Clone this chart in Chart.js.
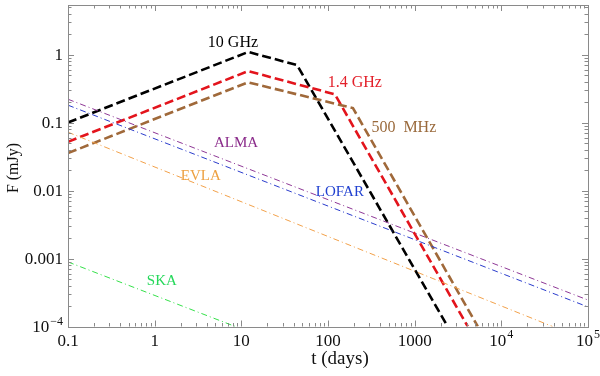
<!DOCTYPE html>
<html>
<head>
<meta charset="utf-8">
<script src="https://cdn.jsdelivr.net/npm/chart.js@4/dist/chart.umd.min.js"></script>
<style>
  html, body { margin: 0; padding: 0; background: #fff; }
  #wrap { position: relative; width: 600px; height: 376px; }
</style>
</head>
<body>
<div id="wrap"><canvas id="c" width="600" height="376"></canvas></div>
<script>
// light curves, t in days, F in mJy
const tenGHzT = [0.1, 12, 44, 2400];
const tenGHzF = [0.1, 1.09, 0.70, 1e-4];
const oneFourGHzT = [0.1, 12, 120, 4100];
const oneFourGHzF = [0.052, 0.57, 0.26, 1e-4];
const fiveHundredMHzT = [0.1, 12, 194, 5350];
const fiveHundredMHzF = [0.0355, 0.39, 0.163, 1e-4];

// instrument sensitivity lines
const almaT = [0.1, 1e5];
const almaF = [0.22, 2.45e-4];
const lofarT = [0.1, 1e5];
const lofarF = [0.18, 1.94e-4];
const evlaT = [0.1, 39000];
const evlaF = [0.072, 1e-4];
const skaT = [0.1, 8.5];
const skaF = [8.9e-4, 1e-4];

// axes
const xTickValues = [0.1, 1, 10, 100, 1000, 1e4, 1e5];
const xTickLabels = ["0.1", "1", "10", "100", "1000", "10^4", "10^5"];
const yTickValues = [1e-4, 0.001, 0.01, 0.1, 1];
const yTickLabels = ["10^-4", "0.001", "0.01", "0.1", "1"];

// curve names and where they sit (data units)
const seriesNames = ["10 GHz", "1.4 GHz", "500  MHz", "ALMA", "EVLA", "LOFAR", "SKA"];
const nameT = [8.0, 204, 750, 8.7, 3.4, 137, 1.21];
const nameF = [1.48, 0.38, 0.083, 0.05, 0.0163, 0.0095, 4.67e-4];

const pts = (t, f) => t.map((v, i) => ({ x: v, y: f[i] }));

const SERIF = "'Liberation Serif', 'DejaVu Serif', serif";
const colors = {
  tenGHz: "#000000",
  oneFour: "#e3141c",
  fiveHundred: "#a0693a",
  alma: "#8e3896",
  evla: "#f2a14a",
  lofar: "#2a3ccc",
  ska: "#35e04a",
};
const labelColors = ["#000000", "#e3202a", "#9a6a3c", "#8a2a8a", "#eda040", "#2040d0", "#25d85a"];

const thick = (label, data, color) => ({
  label, data, borderColor: color, borderWidth: 2.6, borderDash: [9, 4],
  pointRadius: 0, fill: false, tension: 0,
});
const thin = (label, data, color) => ({
  label, data, borderColor: color, borderWidth: 1, borderDash: [6, 3, 1, 3],
  pointRadius: 0, fill: false, tension: 0,
});

function drawPow(ctx, txt, x, y, align, size) {
  // "10^4" style labels with a raised exponent
  const parts = txt.split("^");
  ctx.font = size + "px " + SERIF;
  const baseW = ctx.measureText(parts[0]).width;
  let supW = 0;
  let sup = "";
  if (parts.length > 1) {
    sup = parts[1].replace("-", "\u2212");
    ctx.font = Math.round(size * 0.68) + "px " + SERIF;
    supW = ctx.measureText(sup).width + 1;
  }
  const w = baseW + supW;
  let left = x;
  if (align === "center") left = x - w / 2;
  if (align === "right") left = x - w;
  ctx.textAlign = "left";
  ctx.textBaseline = "alphabetic";
  ctx.font = size + "px " + SERIF;
  ctx.fillText(parts[0], left, y);
  if (sup) {
    ctx.font = Math.round(size * 0.68) + "px " + SERIF;
    ctx.fillText(sup, left + baseW + 1, y - size * 0.42);
  }
}

function minorTicks(min, max) {
  const out = [];
  for (let d = Math.floor(Math.log10(min)); d <= Math.ceil(Math.log10(max)); d++) {
    for (let k = 1; k <= 9; k++) {
      const v = k * Math.pow(10, d);
      if (v >= min * 0.999 && v <= max * 1.001) out.push({ v, major: k === 1 });
    }
  }
  return out;
}

const framePlugin = {
  id: "frame",
  afterDraw(chart) {
    const { ctx, chartArea: a, scales } = chart;
    const xs = scales.x, ys = scales.y;
    ctx.save();

    // frame + inward ticks on all sides
    ctx.strokeStyle = "#8a8a8a";
    ctx.lineWidth = 1;
    ctx.strokeRect(Math.round(a.left) + 0.5, Math.round(a.top) + 0.5,
      Math.round(a.right - a.left), Math.round(a.bottom - a.top));
    ctx.beginPath();
    minorTicks(xs.min, xs.max).forEach(({ v, major }) => {
      const px = Math.round(xs.getPixelForValue(v)) + 0.5;
      const len = major ? 6 : 3.5;
      ctx.moveTo(px, a.bottom); ctx.lineTo(px, a.bottom - len);
      ctx.moveTo(px, a.top); ctx.lineTo(px, a.top + len);
    });
    minorTicks(ys.min, ys.max).forEach(({ v, major }) => {
      const py = Math.round(ys.getPixelForValue(v)) + 0.5;
      const len = major ? 6 : 3.5;
      ctx.moveTo(a.left, py); ctx.lineTo(a.left + len, py);
      ctx.moveTo(a.right, py); ctx.lineTo(a.right - len, py);
    });
    ctx.stroke();

    // tick labels
    ctx.fillStyle = "#111";
    xTickValues.forEach((v, i) => {
      drawPow(ctx, xTickLabels[i], xs.getPixelForValue(v), a.bottom + 19, "center", 17);
    });
    yTickValues.forEach((v, i) => {
      drawPow(ctx, yTickLabels[i], a.left - 5, ys.getPixelForValue(v) + 5.5, "right", 17);
    });

    // axis titles
    ctx.font = "19px " + SERIF;
    ctx.textAlign = "center";
    ctx.textBaseline = "alphabetic";
    ctx.fillText("t (days)", (a.left + a.right) / 2 + 12, 364);
    ctx.save();
    ctx.translate(18, 168);
    ctx.rotate(-Math.PI / 2);
    ctx.font = "16px " + SERIF;
    ctx.fillText("F (mJy)", 0, 0);
    ctx.restore();

    // curve names
    ctx.textBaseline = "middle";
    seriesNames.forEach((name, i) => {
      ctx.font = (i < 3 ? 16 : 15) + "px " + SERIF;
      ctx.fillStyle = labelColors[i];
      ctx.fillText(name, xs.getPixelForValue(nameT[i]), ys.getPixelForValue(nameF[i]));
    });
    ctx.restore();
  },
};

new Chart(document.getElementById("c"), {
  type: "line",
  data: {
    datasets: [
      thin("SKA", pts(skaT, skaF), colors.ska),
      thin("EVLA", pts(evlaT, evlaF), colors.evla),
      thin("LOFAR", pts(lofarT, lofarF), colors.lofar),
      thin("ALMA", pts(almaT, almaF), colors.alma),
      thick("500 MHz", pts(fiveHundredMHzT, fiveHundredMHzF), colors.fiveHundred),
      thick("1.4 GHz", pts(oneFourGHzT, oneFourGHzF), colors.oneFour),
      thick("10 GHz", pts(tenGHzT, tenGHzF), colors.tenGHz),
    ],
  },
  options: {
    responsive: false,
    animation: false,
    events: [],
    layout: { padding: { left: 68, right: 12, top: 5, bottom: 49.5 } },
    plugins: { legend: { display: false }, tooltip: { enabled: false } },
    scales: {
      x: { type: "logarithmic", min: 0.1, max: 1e5, display: false },
      y: { type: "logarithmic", min: 1e-4, max: 5.35, display: false },
    },
  },
  plugins: [framePlugin],
});
</script>
</body>
</html>
